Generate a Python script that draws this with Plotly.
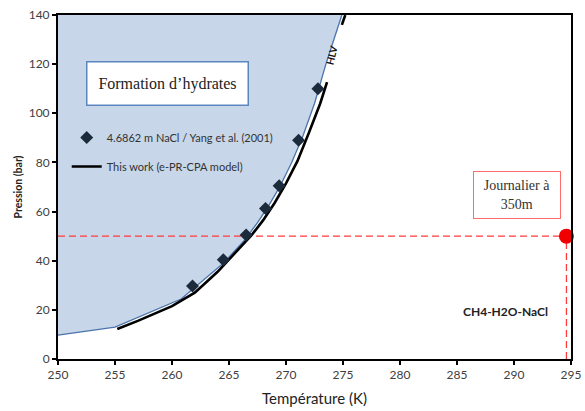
import plotly.graph_objects as go

# ---- data ----
yang_T = [261.8, 264.5, 266.5, 268.2, 269.4, 271.1, 272.8]
yang_P = [29.7, 40.4, 50.5, 61.3, 70.5, 89.0, 110.0]

model_T = [255.2, 257.0, 260.0, 262.0, 264.0, 265.0, 266.0, 267.0, 268.0, 269.0, 270.0, 271.0, 272.0, 273.0, 273.6, None, 274.9, 275.2]
model_P = [12.2, 15.5, 21.5, 27.0, 35.5, 40.5, 45.5, 50.5, 56.5, 63.5, 71.5, 80.5, 92.0, 104.0, 112.7, None, 136.0, 140.0]

region_T = [250.0, 255.0, 260.8, 262.5, 264.5, 266.3, 267.5, 268.5, 269.5, 270.5, 271.5, 272.5, 273.5, 274.2, 274.9]
region_P = [9.7, 13.0, 24.4, 31.0, 39.0, 48.0, 55.5, 62.5, 70.5, 80.0, 91.0, 104.0, 120.0, 130.0, 140.0]

site_T = [294.6]
site_P = [50.0]

X_RANGE = [250, 295]
Y_RANGE = [0, 140]
x_ticks = list(range(250, 296, 5))
y_ticks = list(range(0, 141, 20))

SANS = "Lato"
SERIF = "Liberation Serif"

fig = go.Figure()

# hydrate formation region
fig.add_trace(go.Scatter(
    x=region_T + [X_RANGE[0]], y=region_P + [Y_RANGE[1]],
    fill="toself", fillcolor="#c7d6e9", mode="none",
    showlegend=False, hoverinfo="skip"))
fig.add_trace(go.Scatter(
    x=region_T, y=region_P, mode="lines",
    line=dict(color="#4a74ab", width=1.3),
    showlegend=False, hoverinfo="skip"))

# dashed guide lines to the site point
fig.add_trace(go.Scatter(
    x=[X_RANGE[0], site_T[0]], y=[site_P[0], site_P[0]], mode="lines",
    line=dict(color="#ff3b3b", width=1.3, dash="7px,4px"),
    showlegend=False, hoverinfo="skip"))
fig.add_trace(go.Scatter(
    x=[site_T[0], site_T[0]], y=[Y_RANGE[0], site_P[0]], mode="lines",
    line=dict(color="#ff3b3b", width=1.3, dash="7px,4px"),
    showlegend=False, hoverinfo="skip"))

# model curve
fig.add_trace(go.Scatter(
    x=model_T, y=model_P, mode="lines",
    line=dict(color="black", width=2.6),
    name="This work (e-PR-CPA model)", legendgroup="b", legendrank=2, connectgaps=False))

# experimental data
fig.add_trace(go.Scatter(
    x=yang_T, y=yang_P, mode="markers",
    marker=dict(symbol="diamond", size=10, color="#1c2b3c"),
    name="4.6862 m NaCl / Yang et al. (2001)", legendgroup="a", legendrank=1))

# site point
fig.add_trace(go.Scatter(
    x=site_T, y=site_P, mode="markers",
    marker=dict(size=15, color="#f00000"),
    showlegend=False, cliponaxis=False))

fig.update_layout(
    width=585, height=411,
    margin=dict(l=58, r=14, t=15, b=52, autoexpand=False),
    paper_bgcolor="white", plot_bgcolor="white",
    font=dict(family=SANS, color="#3a3a3a", size=11),
    legend=dict(x=0.017, y=0.686, xanchor="left", yanchor="top",
                bgcolor="rgba(0,0,0,0)", borderwidth=0,
                font=dict(family=SANS, size=11, color="#333333"),
                traceorder="grouped", tracegroupgap=10, itemwidth=30),
    xaxis=dict(range=X_RANGE, tickvals=x_ticks, showgrid=False, zeroline=False,
               showline=True, linecolor="black", linewidth=2, mirror=True,
               ticks="outside", ticklen=4, tickcolor="black", tickwidth=1.5,
               tickfont=dict(size=12, color="#404040"), automargin=False,
               title=dict(text="Température (K)", font=dict(size=15, color="#222222"), standoff=12)),
    yaxis=dict(range=Y_RANGE, tickvals=y_ticks, showgrid=False, zeroline=False,
               showline=True, linecolor="black", linewidth=2, mirror=True,
               ticks="outside", ticklen=4, tickcolor="black", tickwidth=1.5,
               tickfont=dict(size=12, color="#404040"), automargin=False,
               title=dict(text="<b>Pression (bar)</b>", font=dict(size=10.5, color="#222222"), standoff=4)),
    annotations=[
        dict(text="Formation d’hydrates", xref="paper", yref="paper", x=0.2144, y=0.80,
             xanchor="center", yanchor="middle",
             showarrow=False, font=dict(family=SERIF, size=16, color="#222222"),
             bgcolor="white", bordercolor="#5b86c0", borderwidth=1.5, width=158, height=40),
        dict(text="Journalier à<br>350m", xref="paper", yref="paper", x=0.894, y=0.477,
             xanchor="center", yanchor="middle",
             showarrow=False, font=dict(family=SERIF, size=14, color="#333333"),
             bgcolor="white", bordercolor="#ff6b6b", borderwidth=1, width=84, height=44),
        dict(text="<b>CH4-H2O-NaCl</b>", xref="paper", yref="paper", x=0.872, y=0.137,
             xanchor="center", yanchor="middle",
             showarrow=False, font=dict(family=SANS, size=12, color="#222222")),
        dict(text="<b>HLV</b>", xref="x", yref="y", x=273.95, y=123.5,
             xanchor="center", yanchor="middle",
             showarrow=False, textangle=-76, font=dict(family=SANS, size=10, color="#111111")),
    ],
)

fig.write_html("out.html")
